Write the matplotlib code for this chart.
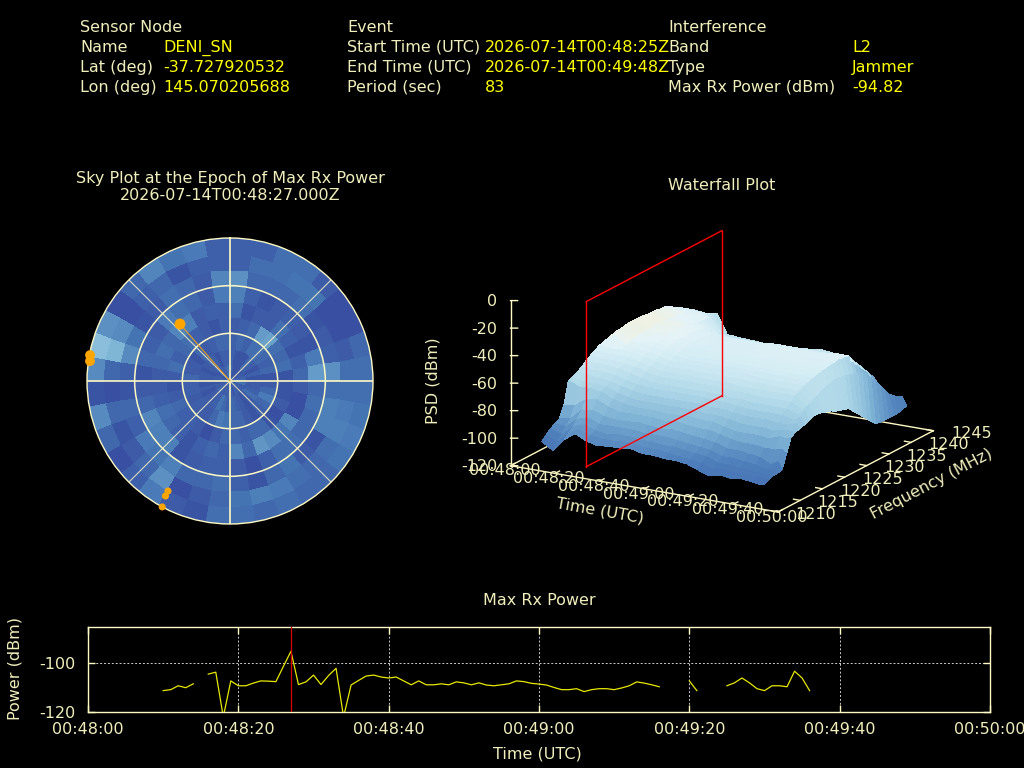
import numpy as np
import matplotlib
matplotlib.use("Agg")
import matplotlib.pyplot as plt
from matplotlib.colors import Normalize, LinearSegmentedColormap
from mpl_toolkits.mplot3d import proj3d

# ---------- header ----------
node_labels = ["Sensor Node", "Name", "Lat (deg)", "Lon (deg)"]
node_values = ["", "DENI_SN", "-37.727920532", "145.070205688"]
event_labels = ["Event", "Start Time (UTC)", "End Time (UTC)", "Period (sec)"]
event_values = ["", "2026-07-14T00:48:25Z", "2026-07-14T00:49:48Z", "83"]
intf_labels = ["Interference", "Band", "Type", "Max Rx Power (dBm)"]
intf_values = ["", "L2", "Jammer", "-94.82"]

# ---------- max rx power ----------
power_t = list(range(10, 97))
power_dbm = [-111.2, -110.8, -109.2, -110.0, -108.4, np.nan, -104.4, -103.6, -122, -107.2,
             -109.2, -109.2, -108.1, -107.2, -107.3, -107.5, -101.2, -95.0, -108.7, -107.6,
             -104.8, -108.7, -105.0, -102.0, -122, -108.9, -107.0, -105.2, -104.8, -105.6,
             -106.0, -105.6, -107.2, -108.8, -107.2, -108.8, -108.8, -108.4, -108.8, -107.6,
             -108.0, -108.8, -108.0, -108.9, -109.2, -108.8, -108.4, -107.2, -107.5, -108.2,
             -108.5, -108.9, -109.9, -110.8, -110.8, -110.4, -111.6, -110.8, -110.4, -110.4,
             -110.8, -110.1, -109.2, -107.6, -108.1, -108.8, -109.6, np.nan, np.nan, np.nan,
             -107.2, -111.2, np.nan, np.nan, np.nan, -109.2, -108.0, -106.0, -108.0, -110.4,
             -111.2, -109.2, -109.2, -109.6, -103.2, -106.0, -111.2]
power_xticks = [0, 20, 40, 60, 80, 100, 120]
time_labels = ["00:48:00", "00:48:20", "00:48:40", "00:49:00", "00:49:20", "00:49:40", "00:50:00"]
epoch_t = 27
red_t = 26.2

# ---------- sky plot: rows = azimuth sector (10 deg), columns = zenith-angle ring (10 deg) ----------
sky_levels = [
    [9, 7, 7, 6, 9, 12, 15, 7, 7], [6, 5, 8, 7, 5, 7, 8, 9, 7], [5, 5, 7, 8, 6, 5, 8, 9, 9],
    [5, 5, 9, 17, 6, 6, 8, 10, 9], [5, 8, 9, 18, 9, 7, 9, 10, 6], [5, 7, 8, 9, 7, 6, 5, 4, 4],
    [6, 5, 7, 8, 5, 5, 6, 4, 4], [7, 7, 8, 9, 7, 11, 7, 6, 8], [8, 5, 5, 5, 8, 17, 15, 9, 9],
    [8, 6, 6, 5, 6, 8, 9, 9, 9], [10, 6, 8, 5, 4, 9, 12, 11, 10], [6, 7, 11, 6, 4, 8, 12, 12, 11],
    [7, 9, 8, 4, 13, 8, 5, 9, 10], [5, 6, 7, 5, 10, 9, 6, 8, 8], [6, 5, 5, 8, 14, 9, 10, 9, 8],
    [7, 6, 6, 8, 16, 7, 8, 11, 9], [5, 7, 8, 7, 8, 4, 5, 12, 8], [7, 8, 8, 8, 13, 6, 7, 10, 9],
    [8, 7, 10, 8, 7, 7, 9, 8, 9], [6, 8, 11, 6, 8, 7, 8, 6, 5], [7, 10, 8, 4, 7, 6, 8, 4, 6],
    [6, 7, 6, 6, 5, 5, 12, 15, 11], [7, 6, 6, 7, 7, 12, 10, 8, 7], [8, 6, 7, 7, 8, 12, 11, 6, 4],
    [6, 5, 6, 8, 9, 13, 7, 5, 8], [7, 6, 7, 6, 7, 8, 8, 8, 14], [5, 5, 7, 5, 6, 6, 5, 4, 5],
    [6, 6, 8, 6, 6, 5, 7, 8, 14], [7, 6, 6, 9, 8, 8, 14, 22, 24], [6, 5, 6, 7, 9, 7, 10, 14, 15],
    [5, 6, 5, 8, 8, 6, 5, 4, 4], [7, 7, 8, 9, 13, 11, 6, 7, 8], [6, 7, 6, 7, 12, 9, 9, 8, 13],
    [7, 5, 7, 6, 6, 8, 8, 5, 10], [8, 7, 8, 5, 7, 6, 6, 7, 11], [9, 7, 8, 7, 7, 11, 13, 7, 7],
]
sky_az_edges = list(range(0, 361, 10))
sky_zen_edges = list(range(0, 91, 10))
sat_az = [318.7, 280.5, 278.1, 209.4, 209.3, 208.3]
sat_zen = [47.7, 89.6, 89.0, 79.5, 83.0, 90.0]
sat_size = [62, 50, 50, 26, 26, 26]

# ---------- waterfall ----------
psd_t = list(range(10, 106, 5)) + [108, 110]
psd_f = list(range(1212, 1245))
psd_rows = [
    [-103, -108, -99, -93, -97, -99, -98, -98, -97, -99, -99, -100, -100, -101, -104, -107, -105, -106, -105, -107, -106],
    [-100, -104, -96, -92, -95, -96, -96, -95, -96, -97, -97, -98, -99, -100, -101, -104, -103, -104, -104, -105, -104],
    [-97, -100, -93, -90, -93, -94, -93, -93, -94, -94, -95, -95, -96, -97, -98, -101, -101, -102, -102, -104, -103],
    [-95, -96, -89, -87, -90, -90, -90, -90, -91, -91, -91, -92, -93, -94, -95, -98, -98, -99, -100, -101, -103],
    [-93, -92, -84, -83, -86, -87, -87, -86, -87, -88, -87, -88, -89, -90, -91, -94, -94, -95, -96, -97, -102],
    [-85, -84, -78, -77, -81, -83, -83, -83, -83, -84, -83, -84, -85, -85, -87, -89, -90, -90, -91, -90, -92],
    [-69, -72, -72, -73, -77, -79, -80, -80, -80, -81, -80, -80, -81, -81, -83, -85, -85, -85, -86, -84, -82],
    [-68, -70, -70, -71, -74, -76, -77, -77, -77, -77, -77, -77, -78, -78, -79, -81, -81, -81, -82, -80, -80],
    [-66, -67, -68, -69, -71, -73, -74, -74, -74, -74, -74, -74, -75, -75, -76, -77, -77, -77, -78, -76, -79],
    [-64, -65, -65, -66, -68, -70, -71, -71, -71, -71, -71, -71, -72, -72, -73, -74, -74, -74, -74, -73, -78],
    [-61, -62, -62, -63, -65, -67, -69, -69, -69, -69, -69, -69, -69, -70, -70, -71, -71, -71, -71, -70, -77],
    [-59, -60, -60, -61, -62, -64, -66, -66, -66, -66, -66, -66, -67, -67, -67, -68, -68, -68, -68, -68, -75],
    [-57, -58, -58, -58, -60, -62, -64, -64, -64, -64, -64, -64, -64, -65, -65, -65, -65, -65, -65, -66, -75],
    [-55, -56, -56, -56, -58, -60, -62, -62, -62, -62, -62, -62, -62, -62, -63, -63, -63, -63, -63, -64, -76],
    [-54, -48, -54, -55, -56, -58, -60, -60, -60, -60, -60, -60, -60, -60, -61, -61, -61, -61, -61, -62, -77],
    [-53, -47, -53, -53, -54, -56, -58, -59, -59, -59, -59, -59, -59, -59, -59, -59, -59, -60, -60, -61, -78],
    [-52, -47, -52, -52, -53, -55, -57, -58, -58, -58, -58, -58, -58, -58, -58, -58, -58, -58, -59, -60, -80],
    [-51, -47, -51, -52, -52, -54, -56, -57, -57, -57, -57, -57, -57, -57, -57, -57, -57, -57, -58, -59, -81],
    [-51, -47, -51, -51, -52, -53, -56, -57, -57, -56, -57, -56, -56, -56, -56, -56, -56, -57, -57, -59, -82],
    [-50, -47, -51, -51, -51, -53, -55, -56, -56, -56, -56, -56, -56, -56, -56, -56, -56, -56, -57, -60, -83],
    [-50, -47, -50, -51, -51, -53, -55, -56, -56, -56, -56, -56, -55, -55, -55, -55, -56, -56, -56, -61, -87],
    [-50, -47, -50, -50, -51, -53, -55, -56, -56, -56, -56, -55, -55, -55, -55, -55, -55, -56, -56, -62, -90],
    [-50, -47, -50, -50, -51, -53, -55, -56, -56, -56, -56, -55, -55, -55, -55, -55, -55, -55, -55, -63, -94],
    [-50, -47, -51, -51, -51, -54, -56, -56, -56, -56, -56, -56, -56, -56, -56, -56, -56, -55, -55, -65, -97],
    [-51, -48, -51, -52, -52, -55, -57, -58, -58, -58, -58, -57, -57, -57, -57, -57, -57, -56, -56, -67, -101],
    [-51, -48, -52, -52, -53, -57, -59, -60, -60, -60, -60, -59, -59, -59, -60, -60, -60, -59, -62, -72, -104],
    [-51, -49, -52, -53, -54, -60, -62, -63, -63, -63, -63, -62, -62, -61, -62, -62, -62, -63, -66, -76, -105],
    [-52, -50, -53, -53, -54, -63, -64, -65, -65, -65, -65, -64, -64, -63, -63, -64, -64, -66, -70, -80, -105],
    [-52, -53, -53, -54, -55, -65, -65, -66, -66, -67, -67, -66, -66, -65, -64, -65, -65, -69, -74, -85, -105],
    [-54, -54, -55, -55, -60, -68, -68, -68, -69, -69, -69, -68, -68, -67, -67, -68, -70, -73, -80, -90, -105],
    [-56, -56, -57, -57, -66, -71, -71, -71, -71, -71, -71, -71, -70, -70, -70, -71, -74, -78, -87, -93, -105],
    [-58, -58, -59, -59, -71, -74, -74, -74, -74, -74, -74, -74, -73, -73, -72, -74, -78, -82, -92, -95, -104],
    [-60, -60, -61, -60, -75, -76, -76, -76, -76, -76, -76, -76, -75, -75, -74, -76, -81, -86, -96, -97, -103],
]
psd_col_108 = [-106, -104, -103, -102, -100, -91, -83, -80, -78, -76, -74, -72, -71, -71, -71, -71, -72,
               -73, -74, -75, -77, -79, -82, -86, -89, -93, -96, -98, -100, -101, -101, -101, -100]
z_ticks = [0, -20, -40, -60, -80, -100, -120]
f_ticks = [1210, 1215, 1220, 1225, 1230, 1235, 1240, 1245]
red_f = [1213.9, 1244.5]
psd_color_stops = [(0.0, "#3a5aa8"), (0.263, "#4f80bb"), (0.46, "#7fb3d5"), (0.658, "#b0d8e8"),
                   (0.816, "#d4ecf4"), (0.895, "#e4f3f7"), (0.96, "#f2f0dc"), (1.0, "#f6f2d0")]

# ---------- styling ----------
CREAM = "#f0eebc"
LINE = "#fff9c4"
FS = 11.5
plt.rcParams["font.family"] = "DejaVu Sans"
plt.rcParams["font.size"] = FS
plt.rcParams["axes.unicode_minus"] = False

fig = plt.figure(figsize=(10.24, 7.68), dpi=100, facecolor="black")


def px_text(x, y, s, color=CREAM, **kw):
    kw.setdefault("ha", "left")
    kw.setdefault("va", "center")
    kw.setdefault("fontsize", FS)
    return fig.text(x / 1024, 1 - y / 768, s, color=color, **kw)


rows_y = [27, 47.5, 67.5, 87.5]
for lx, vx, labs, vals in [(80, 163, node_labels, node_values),
                           (347, 485, event_labels, event_values),
                           (668, 852, intf_labels, intf_values)]:
    for y, lab, val in zip(rows_y, labs, vals):
        px_text(lx, y, lab)
        if val:
            px_text(vx, y, val, color="#ffff00")

px_text(230, 178, "Sky Plot at the Epoch of Max Rx Power", ha="center")
px_text(230, 195, "2026-07-14T00:48:27.000Z", ha="center")
px_text(722, 185, "Waterfall Plot", ha="center")
px_text(539, 600.5, "Max Rx Power", ha="center")

cmap = plt.get_cmap("RdYlBu_r")
psd_cmap = LinearSegmentedColormap.from_list("psd", psd_color_stops)

# ---------- sky plot ----------
ax_sky = fig.add_axes([87 / 1024, 1 - 524 / 768, 286 / 1024, 286 / 768], projection="polar")
ax_sky.set_facecolor("black")
ax_sky.set_theta_zero_location("N")
ax_sky.set_theta_direction(-1)
az_rad = np.deg2rad(sky_az_edges)
ax_sky.pcolormesh(az_rad, sky_zen_edges, np.array(sky_levels).T, cmap=cmap, norm=Normalize(0, 100),
                  shading="flat", rasterized=True)
ax_sky.set_rlim(0, 90)
ax_sky.set_rticks([30, 60])
ax_sky.set_xticks(np.deg2rad(np.arange(0, 360, 45)))
ax_sky.set_xticklabels([])
ax_sky.set_yticklabels([])
ax_sky.tick_params(length=0)
ax_sky.set_axisbelow(False)
ax_sky.yaxis.grid(True, color=LINE, lw=1.1)
for i, gl in enumerate(ax_sky.xaxis.get_gridlines()):
    gl.set_color(LINE)
    gl.set_linestyle("-")
    gl.set_linewidth(1.2 if i % 2 == 0 else 0.8)
    gl.set_alpha(1.0 if i % 2 == 0 else 0.8)
    gl.set_visible(True)
ax_sky.spines["polar"].set_color(LINE)
ax_sky.spines["polar"].set_linewidth(1.0)
ax_sky.plot([np.deg2rad(sat_az[0])] * 2, [0, sat_zen[0]], color="#e59a1c", lw=0.8, zorder=6)
ax_sky.scatter(np.deg2rad(sat_az), sat_zen, s=sat_size, color="#ffa500", zorder=7, clip_on=False, linewidths=0)

# ---------- waterfall ----------
ax3 = fig.add_axes([112 / 1024, 0, 800 / 1024, 800 / 768], projection="3d", proj_type="ortho",
                   computed_zorder=False)
ax3.set_axis_off()
ax3.patch.set_alpha(0)
ax3.view_init(elev=17.5, azim=-60.1)
ax3.set_box_aspect((308, 311, 172.8))
ax3.set_xlim(0, 120, view_margin=0)
ax3.set_ylim(1210, 1245, view_margin=0)
ax3.set_zlim(-120, 0, view_margin=0)

T, F = np.meshgrid(psd_t, psd_f)
Z = np.insert(np.array(psd_rows, dtype=float), 19, psd_col_108, axis=1)
ax3.plot_surface(T, F, Z, cmap=psd_cmap, norm=Normalize(-120, -44), shade=False, rcount=Z.shape[0],
                 ccount=Z.shape[1], linewidth=0, antialiased=False, zorder=3)

base = dict(color=LINE, lw=1.0, zorder=1)
ax3.plot([0, 120], [1210, 1210], [-120, -120], **base)
ax3.plot([120, 120], [1210, 1245], [-120, -120], **base)
ax3.plot([0, 120], [1245, 1245], [-120, -120], **base)
ax3.plot([0, 0], [1210, 1245], [-120, -120], **base)
ax3.plot([0, 0], [1210, 1210], [-120, 0], color=LINE, lw=1.0, zorder=4)

for t, lab in zip(power_xticks, time_labels):
    ax3.plot([t, t], [1210, 1211.0], [-120, -120], **base)
    ax3.text(t, 1208.65, -121.5, lab, color=CREAM, fontsize=FS, ha="center", va="center", zorder=6)
for f in f_ticks:
    ax3.plot([120, 117], [f, f], [-120, -120], **base)
    ax3.text(137, f, -117, str(f), color=CREAM, fontsize=FS, ha="center", va="center", zorder=6)
for z in z_ticks:
    ax3.plot([0, 2.4], [1210, 1210.4], [z, z], color=LINE, lw=1.0, zorder=4)
    ax3.text(-4.4, 1209.27, z - 0.7, str(z), color=CREAM, fontsize=FS, ha="right", va="center", zorder=6)

red = dict(color="#ff0000", lw=1.0, zorder=8)
ax3.plot([red_t, red_t], [red_f[0], red_f[1]], [-120, -120], **red)
ax3.plot([red_t, red_t], [red_f[0], red_f[1]], [0, 0], **red)
ax3.plot([red_t, red_t], [red_f[0], red_f[0]], [-120, 0], **red)
ax3.plot([red_t, red_t], [red_f[1], red_f[1]], [-120, 0], **red)


def project(t, f, z):
    X, Y, _ = proj3d.proj_transform(t, f, z, ax3.get_proj())
    return ax3.transData.transform((X, Y))


# fit the 3-D box to its place on the page
target_o = np.array([510.5, 768 - 465.7])
target_t = np.array([778.0, 768 - 512.0])
side, left, bottom = 800.0, 112.0, 0.0
for _ in range(3):
    ax3.set_position([left / 1024, bottom / 768, side / 1024, side / 768])
    fig.canvas.draw()
    o, e = project(0, 1210, -120), project(120, 1210, -120)
    k = np.linalg.norm(target_t - target_o) / np.linalg.norm(e - o)
    cx, cy = left + side / 2, bottom + side / 2
    side *= k
    o2 = np.array([cx, cy]) + (o - np.array([cx, cy])) * k
    cx += target_o[0] - o2[0]
    cy += target_o[1] - o2[1]
    left, bottom = cx - side / 2, cy - side / 2
ax3.set_position([left / 1024, bottom / 768, side / 1024, side / 768])

px_text(433, 381, "PSD (dBm)", rotation=90, ha="center")
px_text(600, 511, "Time (UTC)", rotation=-10, ha="center", rotation_mode="anchor")
px_text(931, 484, "Frequency (MHz)", rotation=27.6, ha="center", rotation_mode="anchor")

# ---------- power strip ----------
ax_p = fig.add_axes([88 / 1024, 1 - 712 / 768, 902 / 1024, 85 / 768])
ax_p.set_facecolor("black")
ax_p.plot(power_t, power_dbm, color="#e8e800", lw=0.9, zorder=3)
ax_p.axvline(epoch_t, color="#dd0000", lw=0.9, zorder=4)
ax_p.set_xlim(0, 120)
ax_p.set_ylim(-120, -85)
ax_p.set_xticks(power_xticks)
ax_p.set_xticklabels(time_labels)
ax_p.set_yticks([-100, -120])
ax_p.tick_params(colors=CREAM, color=LINE, direction="in", length=5, width=1, top=True, right=True,
                 labelsize=FS, pad=7)
ax_p.tick_params(axis="y", pad=9)
ax_p.grid(True, color="#cccccc", lw=0.7, linestyle=(0, (2, 2)))
for s in ax_p.spines.values():
    s.set_color(LINE)
    s.set_linewidth(1.0)
px_text(537, 754, "Time (UTC)", ha="center")
px_text(15, 668, "Power (dBm)", rotation=90, ha="center")

fig.savefig("out.png", dpi=100, facecolor="black")
